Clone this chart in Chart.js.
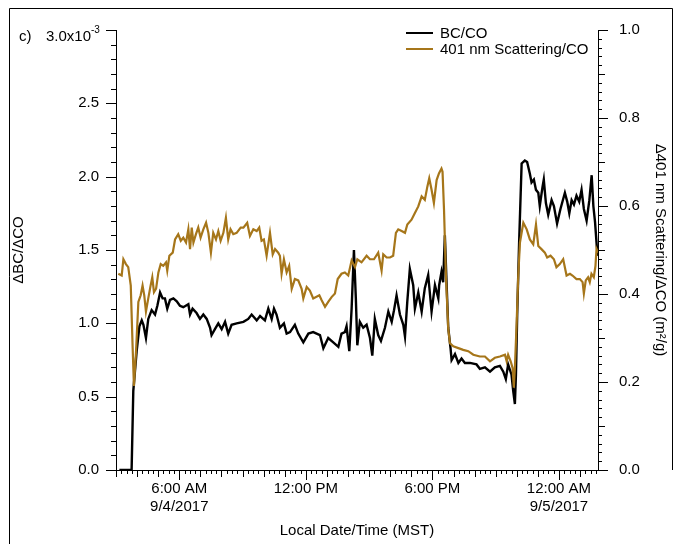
<!DOCTYPE html>
<html>
<head>
<meta charset="utf-8">
<script src="https://cdn.jsdelivr.net/npm/chart.js@4/dist/chart.umd.min.js"></script>
<style>
  html, body { margin: 0; padding: 0; background: #fff; }
  #wrap { width: 675px; height: 544px; position: relative; }
</style>
</head>
<body>
<div id="wrap"><canvas id="c" width="675" height="544"></canvas></div>
<script>
// Time is given as hours after midnight (MST) on 9/4/2017; values past 24 fall on 9/5/2017.
const bcHours = [3.16,3.74,3.82,3.98,4.11,4.22,4.30,4.42,4.53,4.69,4.85,4.96,5.09,5.21,5.32,5.43,5.56,5.72,5.88,6.03,6.19,6.43,6.51,6.63,6.82,6.98,7.14,7.30,7.46,7.53,7.69,7.85,8.01,8.17,8.32,8.48,8.72,9.04,9.27,9.43,9.67,9.83,10.06,10.22,10.38,10.49,10.61,10.77,10.96,11.09,11.25,11.48,11.64,11.88,12.12,12.35,12.51,12.67,12.83,13.06,13.30,13.54,13.69,13.85,13.93,14.06,14.17,14.28,14.37,14.44,14.56,14.72,14.88,15.04,15.15,15.27,15.43,15.56,15.75,15.91,16.07,16.18,16.30,16.46,16.62,16.70,16.81,16.93,17.09,17.17,17.33,17.49,17.64,17.80,17.96,18.12,18.28,18.32,18.43,18.51,18.59,18.67,18.75,18.86,18.91,19.07,19.23,19.38,19.54,19.78,20.09,20.25,20.49,20.73,20.96,21.20,21.36,21.48,21.59,21.75,21.83,21.91,21.96,22.02,22.11,22.23,22.38,22.49,22.62,22.70,22.81,22.91,23.02,23.09,23.22,23.28,23.38,23.49,23.65,23.76,23.91,24.07,24.28,24.39,24.49,24.60,24.71,24.83,24.96,25.07,25.18,25.31,25.44,25.55,25.63,25.71,25.79,25.85];
// ΔBC/ΔCO in units of 1e-3
const bcRatio = [0.00,0.00,0.54,0.81,0.98,1.02,0.99,0.90,1.03,1.09,1.06,1.12,1.21,1.17,1.17,1.10,1.16,1.17,1.15,1.12,1.11,1.13,1.06,1.10,1.07,1.03,1.06,1.03,0.97,0.92,0.96,1.00,0.96,1.01,0.93,0.99,1.00,1.01,1.03,1.06,1.02,1.05,1.02,1.10,1.03,1.10,1.06,0.97,1.00,0.93,0.94,0.99,0.93,0.87,0.93,0.94,0.93,0.92,0.83,0.90,0.87,0.84,0.93,0.94,0.98,0.81,1.10,1.50,1.17,0.85,1.01,0.97,0.99,0.90,0.78,1.03,0.92,0.88,0.97,1.08,1.01,1.09,1.19,1.06,0.99,0.91,1.15,1.37,1.26,1.10,1.21,1.08,1.24,1.33,1.08,1.26,1.17,1.26,1.35,1.28,1.60,1.28,0.97,0.83,0.75,0.79,0.73,0.76,0.73,0.73,0.72,0.69,0.70,0.67,0.70,0.71,0.67,0.62,0.72,0.65,0.54,0.45,0.65,1.06,1.55,2.09,2.11,2.10,2.02,1.96,1.98,1.91,1.89,1.80,1.93,1.98,1.82,1.74,1.84,1.80,1.68,1.78,1.89,1.83,1.75,1.84,1.81,1.87,1.83,1.91,1.78,1.70,1.84,2.01,1.80,1.69,1.53,1.46];

const scatHours = [3.11,3.27,3.35,3.47,3.58,3.70,3.79,3.85,3.95,4.06,4.17,4.26,4.34,4.42,4.53,4.64,4.72,4.80,4.90,5.01,5.12,5.24,5.37,5.43,5.53,5.69,5.80,5.95,6.07,6.19,6.32,6.43,6.51,6.59,6.67,6.79,6.90,7.01,7.14,7.27,7.38,7.50,7.61,7.74,7.85,7.96,8.09,8.21,8.32,8.43,8.56,8.72,8.91,9.04,9.22,9.35,9.51,9.67,9.79,9.90,10.01,10.14,10.30,10.43,10.54,10.69,10.77,10.85,10.96,11.09,11.21,11.33,11.48,11.64,11.80,11.88,12.04,12.19,12.35,12.64,12.75,12.91,13.06,13.22,13.38,13.51,13.69,13.85,14.01,14.17,14.33,14.44,14.64,14.88,15.04,15.23,15.43,15.59,15.67,15.83,15.99,16.14,16.27,16.38,16.54,16.70,16.81,17.01,17.17,17.33,17.49,17.64,17.76,17.85,17.96,18.07,18.20,18.31,18.43,18.48,18.55,18.64,18.75,18.83,18.99,19.23,19.46,19.70,19.94,20.25,20.49,20.73,20.96,21.20,21.44,21.52,21.59,21.71,21.80,21.86,21.91,21.99,22.07,22.15,22.31,22.47,22.62,22.78,22.91,23.02,23.17,23.33,23.44,23.60,23.76,23.88,24.04,24.20,24.36,24.52,24.64,24.83,24.99,25.12,25.18,25.27,25.38,25.46,25.54,25.65,25.73,25.78,25.85];
// Δ401 nm scattering / ΔCO in m²/g
const scatRatio = [0.446,0.442,0.479,0.468,0.461,0.419,0.277,0.191,0.270,0.382,0.397,0.419,0.397,0.360,0.390,0.419,0.438,0.404,0.412,0.449,0.468,0.464,0.472,0.453,0.487,0.494,0.524,0.536,0.521,0.528,0.517,0.547,0.502,0.551,0.517,0.536,0.551,0.528,0.547,0.562,0.539,0.494,0.539,0.524,0.543,0.521,0.539,0.573,0.524,0.547,0.536,0.539,0.551,0.551,0.562,0.532,0.547,0.543,0.551,0.521,0.524,0.487,0.539,0.490,0.502,0.494,0.487,0.446,0.479,0.449,0.464,0.412,0.434,0.431,0.412,0.390,0.416,0.408,0.390,0.397,0.386,0.371,0.382,0.393,0.401,0.434,0.446,0.449,0.442,0.476,0.461,0.479,0.472,0.487,0.479,0.479,0.494,0.453,0.490,0.483,0.483,0.487,0.539,0.547,0.543,0.539,0.558,0.569,0.584,0.599,0.622,0.614,0.644,0.663,0.637,0.607,0.659,0.674,0.685,0.678,0.592,0.442,0.322,0.288,0.281,0.277,0.273,0.270,0.262,0.258,0.258,0.247,0.255,0.258,0.262,0.247,0.262,0.247,0.232,0.187,0.232,0.330,0.442,0.517,0.562,0.547,0.524,0.513,0.558,0.509,0.502,0.494,0.483,0.487,0.479,0.461,0.468,0.479,0.442,0.446,0.442,0.434,0.434,0.427,0.401,0.431,0.438,0.427,0.446,0.438,0.464,0.502,0.494];

const xTickHours = [6, 12, 18, 24];
const xTickLabels = [["6:00 AM", "9/4/2017"], ["12:00 PM"], ["6:00 PM"], ["12:00 AM", "9/5/2017"]];
const leftTickValues = [0, 0.5, 1.0, 1.5, 2.0, 2.5, 3.0];
const rightTickValues = [0, 0.2, 0.4, 0.6, 0.8, 1.0];

const FONT = "'Liberation Sans', Arial, sans-serif";
const GOLD = '#A6761A';

Chart.defaults.font.family = FONT;
Chart.defaults.font.size = 15;
Chart.defaults.color = '#000';

// white page plus the thin frame around the figure
const framePlugin = {
  id: 'frame',
  beforeDraw(chart) {
    const ctx = chart.ctx;
    ctx.save();
    ctx.fillStyle = '#fff';
    ctx.fillRect(0, 0, chart.width, chart.height);
    ctx.strokeStyle = '#000';
    ctx.lineWidth = 1;
    ctx.beginPath();
    ctx.moveTo(9.5, 544); ctx.lineTo(9.5, 8.5); ctx.lineTo(672.5, 8.5); ctx.lineTo(672.5, 470);
    ctx.stroke();
    ctx.restore();
  }
};

// outward major/minor tick marks on all three axes, panel tag, exponent label and legend
const decorPlugin = {
  id: 'decor',
  afterDraw(chart) {
    const ctx = chart.ctx;
    const xs = chart.scales.x, yl = chart.scales.y, yr = chart.scales.y2;
    ctx.save();
    ctx.strokeStyle = '#000';
    ctx.lineWidth = 1;
    ctx.beginPath();
    // time axis: every 15 min, longer each hour, longest every 6 h
    for (let q = Math.ceil(xs.min * 4); q <= Math.floor(xs.max * 4); q++) {
      const px = Math.round(xs.getPixelForValue(q / 4)) + 0.5;
      const len = (q % 24 === 0) ? 10 : (q % 4 === 0 ? 7 : 4);
      ctx.moveTo(px, xs.top); ctx.lineTo(px, xs.top + len);
    }
    // left axis: every 0.1, major every 0.5
    for (let i = 0; i <= 30; i++) {
      const py = Math.round(yl.getPixelForValue(i / 10)) + 0.5;
      const len = (i % 5 === 0) ? 10 : 5;
      ctx.moveTo(yl.right, py); ctx.lineTo(yl.right - len, py);
    }
    // right axis: every 0.02, medium every 0.1, major every 0.2
    for (let i = 0; i <= 50; i++) {
      const py = Math.round(yr.getPixelForValue(i / 50)) + 0.5;
      const len = (i % 10 === 0) ? 10 : (i % 5 === 0 ? 7 : 4);
      ctx.moveTo(yr.left, py); ctx.lineTo(yr.left + len, py);
    }
    ctx.stroke();

    // panel tag and the scaled top label of the left axis
    const topY = yl.getPixelForValue(3.0);
    ctx.fillStyle = '#000';
    ctx.textBaseline = 'alphabetic';
    ctx.font = '15px ' + FONT;
    ctx.textAlign = 'left';
    ctx.fillText('c)', 19, topY + 11);
    ctx.textAlign = 'right';
    ctx.fillText('3.0x10', 91, topY + 11);
    ctx.font = '10px ' + FONT;
    ctx.textAlign = 'left';
    ctx.fillText('-3', 91, topY + 3);

    // legend
    ctx.font = '15px ' + FONT;
    ctx.textBaseline = 'middle';
    chart.data.datasets.forEach((ds, i) => {
      const ly = 33 + i * 16;
      ctx.strokeStyle = ds.borderColor;
      ctx.lineWidth = 2;
      ctx.beginPath();
      ctx.moveTo(406, ly); ctx.lineTo(433, ly);
      ctx.stroke();
      ctx.fillStyle = '#000';
      ctx.fillText(ds.label, 440, ly + 1);
    });
    ctx.restore();
  }
};

const pairs = (xs, ys) => xs.map((h, i) => ({ x: h, y: ys[i] }));

new Chart(document.getElementById('c'), {
  type: 'line',
  data: {
    datasets: [
      { label: 'BC/CO', data: pairs(bcHours, bcRatio), yAxisID: 'y',
        borderColor: '#000', borderWidth: 2.4, pointRadius: 0, tension: 0, order: 2 },
      { label: '401 nm Scattering/CO', data: pairs(scatHours, scatRatio), yAxisID: 'y2',
        borderColor: GOLD, borderWidth: 2.2, pointRadius: 0, tension: 0, order: 1 }
    ]
  },
  options: {
    responsive: false,
    animation: false,
    devicePixelRatio: 1,
    layout: { padding: { top: 25, left: 0, right: 0, bottom: 0 } },
    plugins: { legend: { display: false }, tooltip: { enabled: false } },
    scales: {
      x: {
        type: 'linear', position: 'bottom', min: 3.0, max: 25.85,
        afterBuildTicks: s => { s.ticks = xTickHours.map(v => ({ value: v })); },
        afterFit: s => { s.height = 74; },
        ticks: {
          autoSkip: false, maxRotation: 0, minRotation: 0, padding: 10,
          callback: v => xTickLabels[xTickHours.indexOf(v)]
        },
        grid: { drawOnChartArea: false, drawTicks: false },
        border: { color: '#000', width: 1 },
        title: { display: true, text: 'Local Date/Time (MST)', padding: { top: 0, bottom: 4 } }
      },
      y: {
        position: 'left', min: 0, max: 3.0,
        afterBuildTicks: s => { s.ticks = leftTickValues.map(v => ({ value: v })); },
        afterFit: s => { s.width = 116; },
        ticks: { padding: 17, callback: v => (v >= 3 ? '' : v.toFixed(1)) },
        grid: { drawOnChartArea: false, drawTicks: false },
        border: { color: '#000', width: 1 },
        title: { display: true, text: 'ΔBC/ΔCO', padding: { top: 10, bottom: 0 } }
      },
      y2: {
        position: 'right', min: 0, max: 1.0,
        afterBuildTicks: s => { s.ticks = rightTickValues.map(v => ({ value: v })); },
        afterFit: s => { s.width = 77; },
        ticks: { padding: 21, callback: v => v.toFixed(1) },
        grid: { drawOnChartArea: false, drawTicks: false },
        border: { color: '#000', width: 1 },
        title: { display: true, text: 'Δ401 nm Scattering/ΔCO (m²/g)', padding: { top: 6, bottom: 0 } }
      }
    }
  },
  plugins: [framePlugin, decorPlugin]
});
</script>
</body>
</html>
